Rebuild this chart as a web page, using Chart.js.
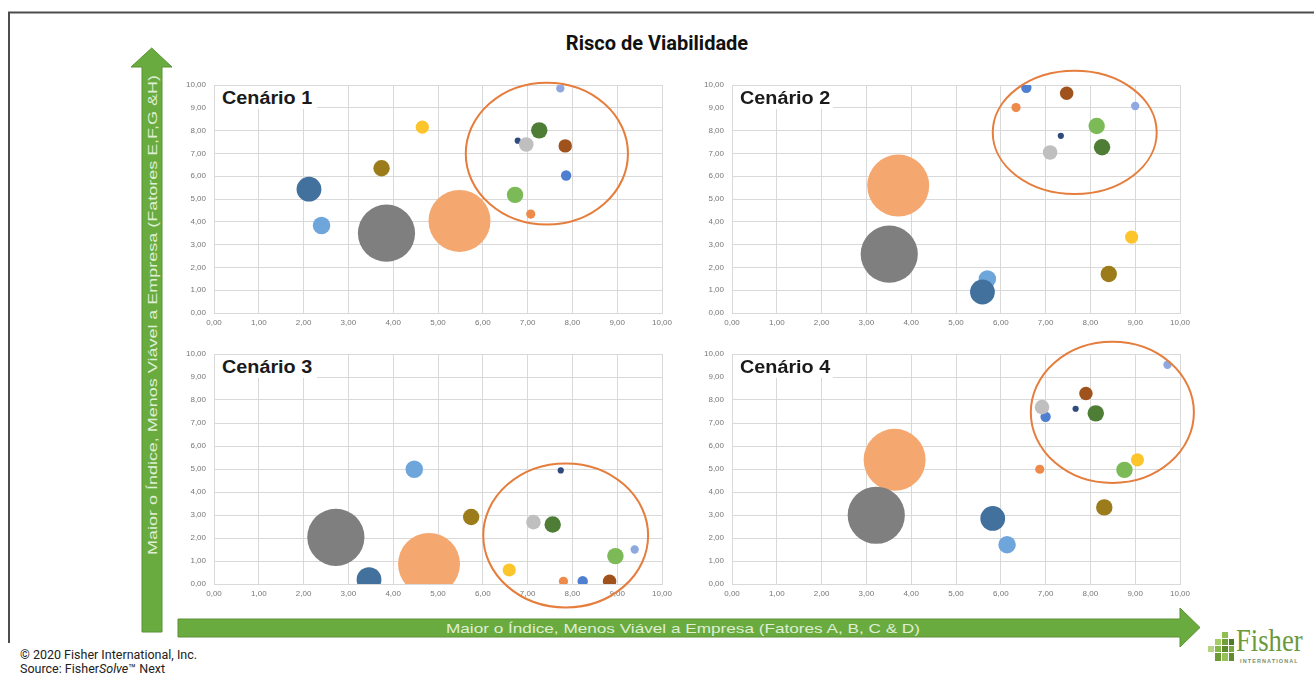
<!DOCTYPE html>
<html lang="pt">
<head>
<meta charset="utf-8">
<title>Risco de Viabilidade</title>
<script src="https://cdn.jsdelivr.net/npm/chart.js@4.4.1/dist/chart.umd.min.js"></script>
<style>
  html, body { margin: 0; padding: 0; background: #fff; }
  #page { position: relative; width: 1314px; height: 675px; overflow: hidden; background: #fff; font-family: Roboto, "Liberation Sans", Arial, sans-serif; }
  #deco { position: absolute; left: 0; top: 0; }
  canvas.panel { position: absolute; }
  #title { position: absolute; left: 0; top: 31px; width: 1314px; text-align: center; font: bold 20px Roboto, "Liberation Sans", Arial, sans-serif; color: #111; line-height: 24px; }
  .tag { position: absolute; background: #fff; height: 23px; }
  .tag span { position: absolute; left: 7px; top: 2px; font: bold 18px "Liberation Sans", Arial, sans-serif; color: #1a1a1a; transform: scaleX(1.1); transform-origin: left center; white-space: nowrap; line-height: 20px; }
  #foot { position: absolute; left: 20px; top: 648px; font: 12.5px Roboto, "Liberation Sans", Arial, sans-serif; color: #222; line-height: 14px; }
  #logo { position: absolute; left: 1208px; top: 626px; width: 100px; height: 45px; }
  #logo .word { position: absolute; left: 28px; top: -2px; font: 31px "Liberation Serif", "DejaVu Serif", serif; color: #6b9a3b; transform: scaleX(0.86); transform-origin: left top; line-height: 34px; }
  #logo .sub { position: absolute; left: 32px; top: 32px; font: bold 5.5px "Liberation Sans", Arial, sans-serif; color: #7d8f6c; letter-spacing: 1.1px; }
  #logo i { position: absolute; display: block; }
</style>
</head>
<body>
<div id="page">
  <svg id="deco" width="1314" height="675" xmlns="http://www.w3.org/2000/svg">
    <!-- slide frame -->
    <polyline points="9,643 9,12.5 1314,12.5" fill="none" stroke="#4d4d4d" stroke-width="2"/>
    <!-- vertical axis arrow -->
    <polygon points="142,632 142,67 131,67 151.7,48 172,67 162,67 162,632" fill="#6aab40" stroke="#5a9234" stroke-width="1"/>
    <text x="0" y="0" transform="translate(156.5,315) rotate(-90)" text-anchor="middle" textLength="480" lengthAdjust="spacingAndGlyphs" font-family="Liberation Sans, Arial, sans-serif" font-size="13" fill="#dfeed4">Maior o Índice, Menos Viável a Empresa (Fatores E,F,G &amp;H)</text>
    <!-- horizontal axis arrow -->
    <polygon points="178,619 1180,619 1180,608 1200,627.5 1180,647 1180,637 178,637" fill="#6aab40" stroke="#5a9234" stroke-width="1"/>
    <text x="683" y="632.5" text-anchor="middle" textLength="474" lengthAdjust="spacingAndGlyphs" font-family="Liberation Sans, Arial, sans-serif" font-size="13" fill="#dfeed4">Maior o Índice, Menos Viável a Empresa (Fatores A, B, C &amp; D)</text>
  </svg>

  <div id="title">Risco de Viabilidade</div>

  <canvas class="panel" id="c1" width="508" height="272" style="left:170px;top:69px"></canvas>
  <canvas class="panel" id="c2" width="508" height="272" style="left:688px;top:69px"></canvas>
  <canvas class="panel" id="c3" width="508" height="274" style="left:170px;top:338px"></canvas>
  <canvas class="panel" id="c4" width="508" height="274" style="left:688px;top:338px"></canvas>

  <div class="tag" style="left:215px;top:86px;width:102px"><span>Cenário 1</span></div>
  <div class="tag" style="left:733px;top:86px;width:100px"><span>Cenário 2</span></div>
  <div class="tag" style="left:215px;top:355px;width:102px"><span>Cenário 3</span></div>
  <div class="tag" style="left:733px;top:355px;width:100px"><span>Cenário 4</span></div>

  <div id="foot">© 2020 Fisher International, Inc.<br>Source: Fisher<i>Solve</i>™ Next</div>

  <div id="logo">
    <i style="left:14px;top:6px;width:6px;height:6px;background:#8fbf4e"></i>
    <i style="left:14px;top:13px;width:6px;height:6px;background:#6f9f36"></i>
    <i style="left:7px;top:13px;width:6px;height:6px;background:#a6cc6a"></i>
    <i style="left:14px;top:20px;width:6px;height:6px;background:#5d8a2c"></i>
    <i style="left:7px;top:20px;width:6px;height:6px;background:#86b64a"></i>
    <i style="left:0px;top:20px;width:6px;height:6px;background:#b5d384"></i>
    <i style="left:21px;top:13px;width:5px;height:6px;background:#4f7a26"></i>
    <i style="left:21px;top:20px;width:5px;height:6px;background:#7aa83f"></i>
    <i style="left:7px;top:27px;width:6px;height:8px;background:#6d9a35"></i>
    <i style="left:14px;top:27px;width:6px;height:8px;background:#95c158"></i>
    <i style="left:21px;top:27px;width:5px;height:8px;background:#5f8c2e"></i>
    <div class="word">Fisher</div>
    <div class="sub">INTERNATIONAL</div>
  </div>
</div>

<script>
// ---- data -------------------------------------------------------------
const scenarios = ['Cenário 1', 'Cenário 2', 'Cenário 3', 'Cenário 4'];

const groups = ['Grupo 1', 'Grupo 2', 'Grupo 3', 'Grupo 4', 'Grupo 5', 'Grupo 6', 'Grupo 7',
                'Grupo 8', 'Grupo 9', 'Grupo 10', 'Grupo 11', 'Grupo 12', 'Grupo 13', 'Grupo 14'];

// bubble size per group
const groupSize = [16, 8, 85, 100, 7, 4.5, 7, 7, 4.7, 5.5, 1, 2.8, 1.8, 2.2];

// index A-D (x) per scenario
const xScen1 = [2.12, 2.40, 3.85, 5.48, 3.74, 4.65, 7.26, 6.72, 7.84, 6.97, 6.78, 7.86, 7.73, 7.07];
const xScen2 = [5.59, 5.70, 3.51, 3.71, 8.41, 8.92, 8.26, 8.14, 7.47, 7.10, 7.34, 6.57, 9.00, 6.34];
const xScen3 = [3.46, 4.47, 2.72, 4.80, 5.74, 6.59, 7.56, 8.96, 8.83, 7.13, 7.74, 8.23, 9.39, 7.80];
const xScen4 = [5.82, 6.14, 3.22, 3.63, 8.31, 9.05, 8.12, 8.76, 7.90, 6.92, 7.67, 7.00, 9.72, 6.87];

// index E-H (y) per scenario
const yScen1 = [5.43, 3.84, 3.50, 4.04, 6.35, 8.15, 8.01, 5.18, 7.33, 7.39, 7.56, 6.03, 9.85, 4.34];
const yScen2 = [0.92, 1.49, 2.58, 5.59, 1.71, 3.33, 7.27, 8.20, 9.64, 7.04, 7.77, 9.88, 9.08, 9.01];
const yScen3 = [0.19, 4.99, 2.03, 0.87, 2.91, 0.61, 2.59, 1.21, 0.12, 2.69, 4.94, 0.12, 1.50, 0.12];
const yScen4 = [2.85, 1.71, 2.99, 5.40, 3.33, 5.40, 7.42, 4.96, 8.28, 7.69, 7.62, 7.27, 9.53, 4.99];

// highlighted zone per scenario: centre and half-extent in index units
const zoneCx = [7.43, 7.65, 7.85, 8.49];
const zoneCy = [6.99, 7.92, 2.11, 7.46];
const zoneRx = [1.81, 1.83, 1.84, 1.82];
const zoneRy = [3.11, 2.70, 3.13, 3.07];

const axisTicks = [0, 1, 2, 3, 4, 5, 6, 7, 8, 9, 10];

// ---- styling ----------------------------------------------------------
const groupColors = ['#41719c', '#6ea6dc', '#7f7f7f', '#f4a870', '#9c7b1b', '#fcc52b', '#4e7d36',
                     '#7cba58', '#a0521d', '#bfbfbf', '#2f4a7c', '#4f7fd0', '#8ea8e0', '#ee8a4a'];
const bubbleScale = 3.1;
const fmt = v => Number(v).toFixed(2).replace('.', ',');

// orange outline drawn around the highlighted zone
const zonePlugin = {
  id: 'zone',
  afterDatasetsDraw(chart, args, opts) {
    const { ctx, scales: { x, y } } = chart;
    const px = x.getPixelForValue(opts.cx);
    const py = y.getPixelForValue(opts.cy);
    const rx = Math.abs(x.getPixelForValue(opts.cx + opts.rx) - px);
    const ry = Math.abs(y.getPixelForValue(opts.cy + opts.ry) - py);
    ctx.save();
    ctx.beginPath();
    ctx.ellipse(px, py, rx, ry, 0, 0, Math.PI * 2);
    ctx.strokeStyle = '#e57d3c';
    ctx.lineWidth = 2;
    ctx.stroke();
    ctx.restore();
  }
};

function axis(extra) {
  return Object.assign({
    type: 'linear',
    min: 0,
    max: 10,
    afterBuildTicks: s => { s.ticks = axisTicks.map(v => ({ value: v })); },
    grid: { color: '#d9d9d9', lineWidth: 1, drawTicks: false },
    border: { display: true, color: '#d9d9d9' },
    ticks: {
      callback: v => fmt(v),
      font: { family: '"Liberation Sans", Arial, sans-serif', size: 8 },
      color: '#767676',
      autoSkip: false,
      maxRotation: 0
    }
  }, extra);
}

function drawScenario(canvasId, i, xs, ys) {
  const datasets = groups.map((g, k) => ({
    label: g,
    data: [{ x: xs[k], y: ys[k], r: bubbleScale * Math.sqrt(groupSize[k]) }],
    backgroundColor: groupColors[k],
    borderColor: groupColors[k],
    borderWidth: 0,
    hoverRadius: 0
  }));
  return new Chart(document.getElementById(canvasId), {
    type: 'bubble',
    data: { datasets },
    plugins: [zonePlugin],
    options: {
      responsive: false,
      animation: false,
      events: [],
      layout: { autoPadding: false, padding: { left: 0, top: 16, right: 16, bottom: 8 } },
      plugins: {
        legend: { display: false },
        tooltip: { enabled: false },
        title: { display: false },
        zone: { cx: zoneCx[i], cy: zoneCy[i], rx: zoneRx[i], ry: zoneRy[i] }
      },
      scales: {
        x: axis({ position: 'bottom', afterFit: s => { s.height = 20; },
                  ticks: Object.assign({}, axis().ticks, { padding: 5 }) }),
        y: axis({ position: 'left', afterFit: s => { s.width = 44; },
                  ticks: Object.assign({}, axis().ticks, { padding: 8 }) })
      }
    }
  });
}

drawScenario('c1', 0, xScen1, yScen1);
drawScenario('c2', 1, xScen2, yScen2);
drawScenario('c3', 2, xScen3, yScen3);
drawScenario('c4', 3, xScen4, yScen4);
</script>
</body>
</html>
